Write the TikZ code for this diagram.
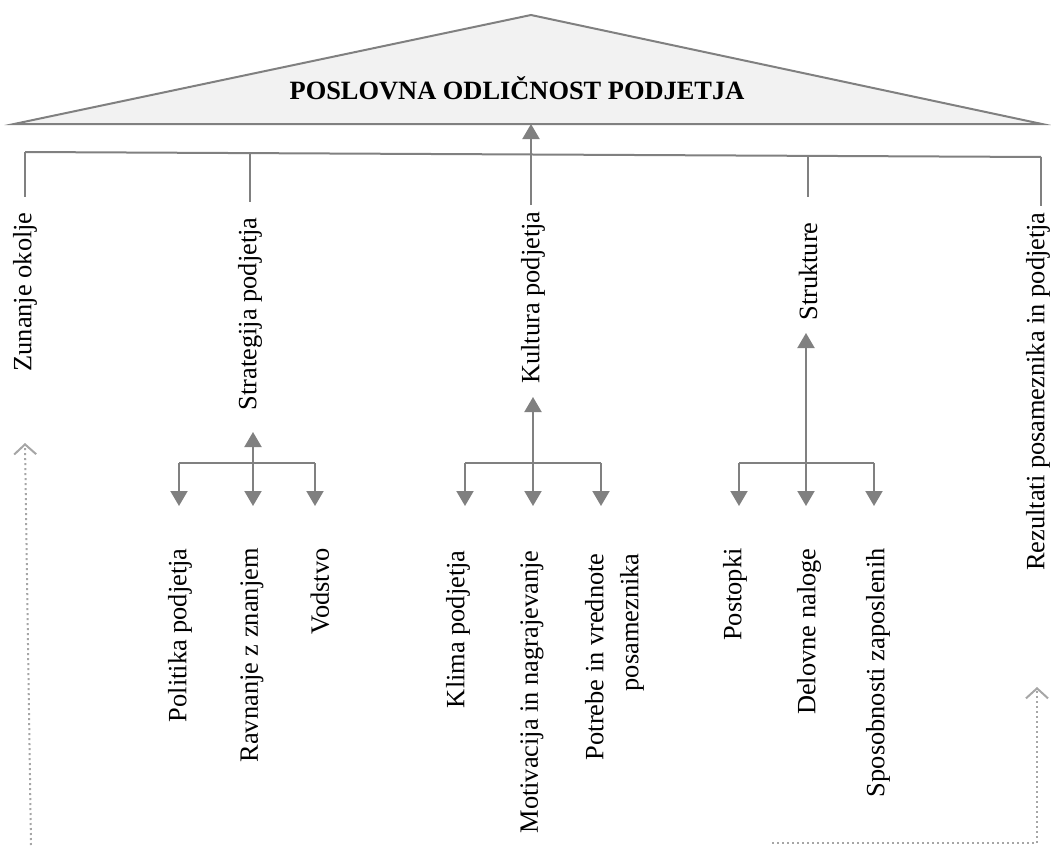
\documentclass[tikz,border=0pt]{standalone}
\usepackage{fontspec}
\setmainfont{Liberation Serif}
\usetikzlibrary{arrows.meta,calc}
\definecolor{lc}{HTML}{808080}
\definecolor{dc}{HTML}{A6A6A6}
\definecolor{rf}{HTML}{F2F2F2}
\begin{document}
\begin{tikzpicture}[x=0.5pt,y=-0.5pt,
  gl/.style={draw=lc, line width=1pt},
  arr/.style={gl, -{Triangle[length=7.5pt,width=8.5pt]}},
  dotl/.style={draw=dc, line width=1pt, dash pattern=on 1pt off 1.5pt},
  darr/.style={dotl, -{Straight Barb[length=5pt,width=11pt]}},
  lab/.style={rotate=90, anchor=east, inner sep=0pt, font=\fontsize{13.2}{17.5}\selectfont, align=right},
  ttl/.style={font=\bfseries\fontsize{13.2}{16}\selectfont, inner sep=0pt}]
\useasboundingbox (0,0) rectangle (1051,846);
% roof
\coordinate (apex) at (531,15);
\coordinate (rl) at (14,124);
\coordinate (rr) at (1042,124);
\coordinate (rb) at (531,124);
\filldraw[fill=rf, draw=lc, line width=1pt, line join=miter] (rl) -- (apex) -- (rr) -- cycle;
\node[ttl] (title) at (517,88) {POSLOVNA ODLIČNOST PODJETJA};
% main labels
\node[lab] (zun) at (25,212) {Zunanje okolje};
\node[lab] (str) at (250,217) {Strategija podjetja};
\node[lab] (kul) at (533,211) {Kultura podjetja};
\node[lab] (stk) at (808,222) {Strukture};
\node[lab] (rez) at (1038,212) {Rezultati posameznika in podjetja};
% horizontal bar and drops
\coordinate (j1) at (25,152);
\coordinate (j2) at (250,153.1);
\coordinate (j3) at (531,154.5);
\coordinate (j4) at (808,155.9);
\coordinate (j5) at (1041,157);
\coordinate (e1) at (25,197);
\coordinate (e2) at (250,202);
\coordinate (e3) at (531,205);
\coordinate (e4) at (808,197);
\coordinate (e5) at (1041,206);
\draw[gl] (j1) -- (j5);
\draw[gl] (j1) -- (e1);
\draw[gl] (j2) -- (e2);
\draw[gl] (j4) -- (e4);
\draw[gl] (j5) -- (e5);
\draw[arr] (e3) -- (rb);
% sub labels
\node[lab] (pol) at (180,548) {Politika podjetja};
\node[lab] (rav) at (252,548) {Ravnanje z znanjem};
\node[lab] (vod) at (320,548) {Vodstvo};
\node[lab] (kli) at (458,550) {Klima podjetja};
\node[lab] (mot) at (532,550) {Motivacija in nagrajevanje};
\node[lab] (pot) at (614.5,553) {Potrebe in vrednote\\posameznika};
\node[lab] (pos) at (735,548) {Postopki};
\node[lab] (del) at (809,548) {Delovne naloge};
\node[lab] (spo) at (878,548) {Sposobnosti zaposlenih};
% strategija group
\coordinate (sl) at (179,463);
\coordinate (sm) at (253,463);
\coordinate (sr) at (315,463);
\coordinate (st) at (253,432);
\draw[gl] (sl) -- (sr);
\draw[arr] (sm) -- (st);
\draw[arr, shorten >=21pt] (sl) -- (sl |- pol.east);
\draw[arr, shorten >=21pt] (sm) -- (sm |- rav.east);
\draw[arr, shorten >=21pt] (sr) -- (sr |- vod.east);
% kultura group
\coordinate (kl) at (465,463);
\coordinate (km) at (533,463);
\coordinate (kr) at (601,463);
\coordinate (kt) at (533,397);
\draw[gl] (kl) -- (kr);
\draw[arr] (km) -- (kt);
\draw[arr, shorten >=22pt] (kl) -- (kl |- kli.east);
\draw[arr, shorten >=22pt] (km) -- (km |- mot.east);
\draw[arr, shorten >=23.5pt] (kr) -- (kr |- pot.east);
% strukture group
\coordinate (tl) at (739,463);
\coordinate (tm) at (806,463);
\coordinate (tr) at (874,463);
\coordinate (tt) at (806,333);
\draw[gl] (tl) -- (tr);
\draw[arr] (tm) -- (tt);
\draw[arr, shorten >=21pt] (tl) -- (tl |- pos.east);
\draw[arr, shorten >=21pt] (tm) -- (tm |- del.east);
\draw[arr, shorten >=21pt] (tr) -- (tr |- spo.east);
% dotted feedback lines
\coordinate (zb) at (31,845);
\coordinate (zt) at (25,443);
\draw[darr] (zb) -- (zt);
\coordinate (d1) at (772,843);
\coordinate (d2) at (1037,843);
\coordinate (d3) at (1037,687);
\draw[darr] (d1) -- (d2) -- (d3);
\end{tikzpicture}
\end{document}
